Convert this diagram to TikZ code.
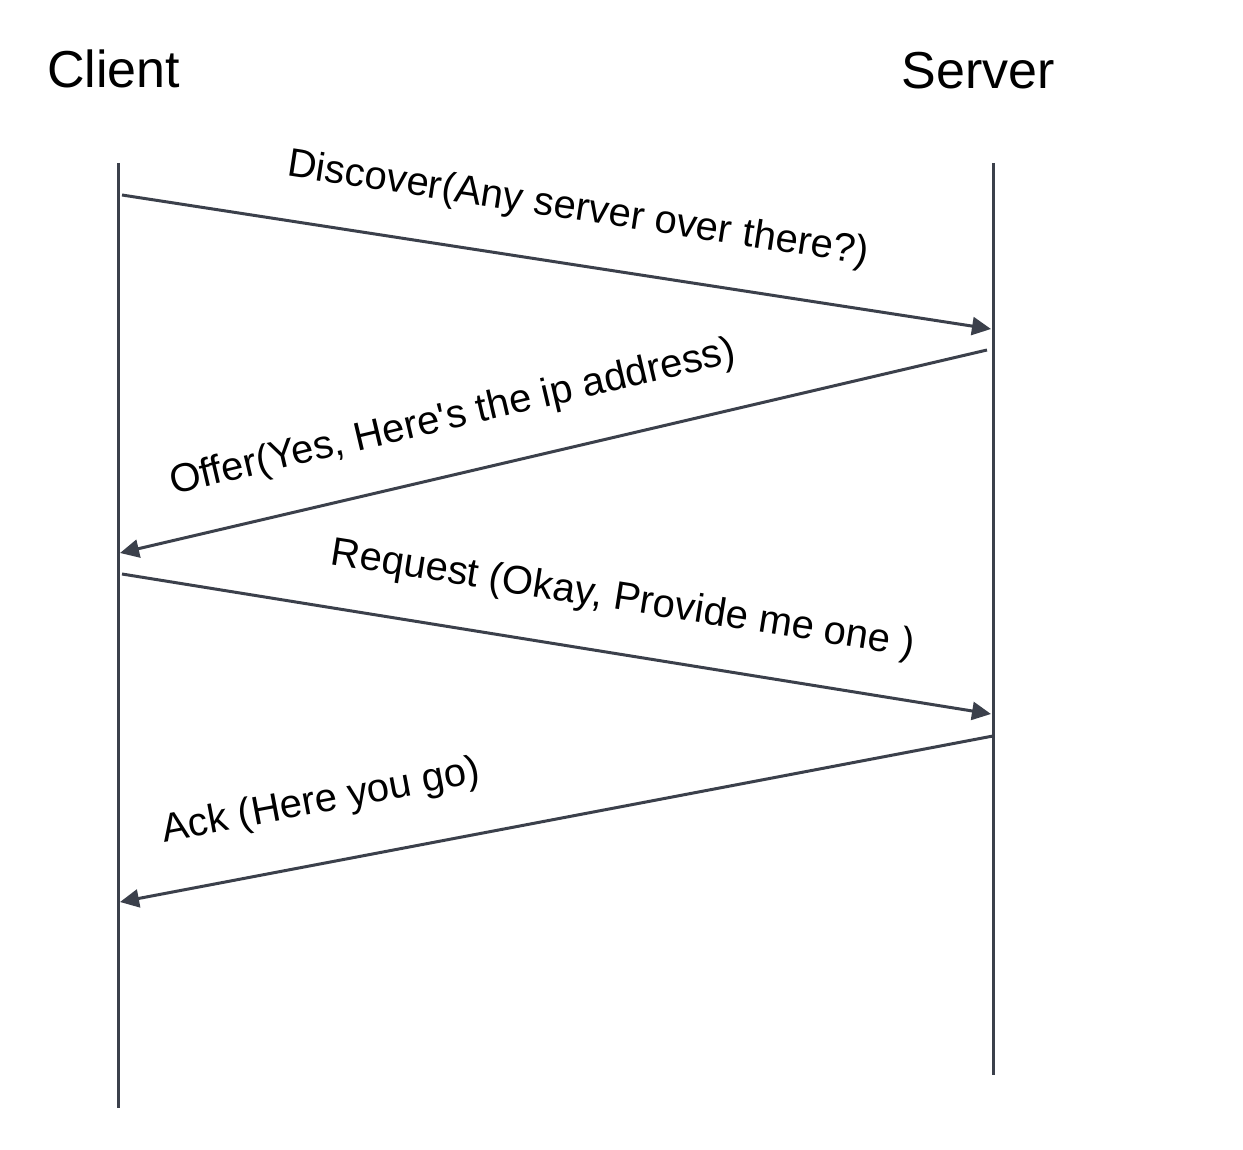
\documentclass[tikz,border=0pt]{standalone}
\usepackage{fontspec}
\setmainfont{Liberation Sans}
\usetikzlibrary{arrows.meta}
\definecolor{linec}{HTML}{3B404B}
\tikzset{
  lifeline/.style={draw=linec, line width=3pt},
  msg/.style={draw=linec, line width=3pt, -{Triangle[length=19pt,width=18pt]}},
  actor/.style={font=\fontsize{52}{60}\selectfont, inner sep=0pt, anchor=base},
  msglabel/.style={font=\fontsize{40}{46}\selectfont, inner sep=0pt, anchor=center}
}
\begin{document}
\begin{tikzpicture}[x=1pt,y=-1pt]
\useasboundingbox (0,0) rectangle (1243,1150);
\fill[white] (0,0) rectangle (1243,1150);
% actors
\node[actor] (client) at (113.5,88) {Client};
\node[actor] (server) at (978,89) {Server};
% lifelines
\coordinate (ctop) at (118,163);
\coordinate (cbot) at (118,1108);
\coordinate (stop) at (993,163);
\coordinate (sbot) at (993,1075);
\draw[lifeline] (ctop) -- (cbot);
\draw[lifeline] (stop) -- (sbot);
% message endpoints
\coordinate (m1a) at (122,195);
\coordinate (m1b) at (991,329);
\coordinate (m2a) at (987,350);
\coordinate (m2b) at (120,553);
\coordinate (m3a) at (122,574);
\coordinate (m3b) at (991,714);
\coordinate (m4a) at (993,736);
\coordinate (m4b) at (120,902);
\draw[msg] (m1a) -- (m1b);
\draw[msg] (m2a) -- (m2b);
\draw[msg] (m3a) -- (m3b);
\draw[msg] (m4a) -- (m4b);
% labels
\node[msglabel, rotate=-8.7] (l1) at (578,210) {Discover(Any server over there?)};
\node[msglabel, rotate=13.2] (l2) at (453,418) {Offer(Yes, Here\textquotesingle s the ip address)};
\node[msglabel, rotate=-9.0] (l3) at (623,600) {Request (Okay, Provide me one )};
\node[msglabel, rotate=10.7] (l4) at (321,802) {Ack (Here you go)};
\end{tikzpicture}
\end{document}
